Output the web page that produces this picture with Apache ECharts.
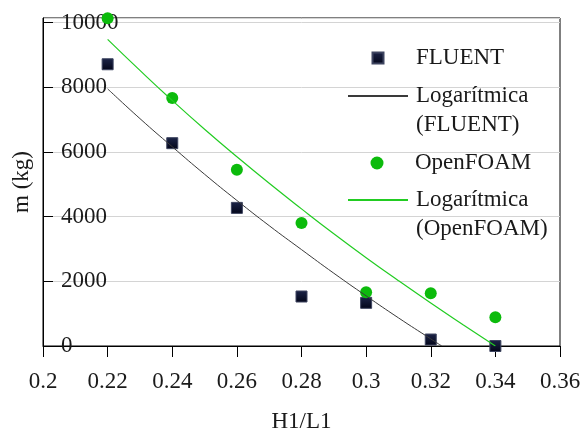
<!DOCTYPE html>
<html>
<head>
<meta charset="utf-8">
<script src="https://cdn.jsdelivr.net/npm/echarts@6/dist/echarts.min.js"></script>
<style>
html,body{margin:0;padding:0;background:#fff;}
#chart{width:588px;height:432px;}
</style>
</head>
<body>
<div id="chart"></div>
<script>
// ---- data ----
var xValues = [0.22, 0.24, 0.26, 0.28, 0.30, 0.32, 0.34];
var fluentValues = [8710, 6270, 4270, 1530, 1335, 200, 0];
var openfoamValues = [10130, 7670, 5450, 3800, 1660, 1630, 890];

var fluentTrendX = [0.22, 0.23, 0.24, 0.25, 0.26, 0.27, 0.28, 0.29, 0.30, 0.31, 0.32, 0.3234];
var fluentTrendY = [7950, 7030, 6160, 5310, 4500, 3720, 2980, 2250, 1550, 870, 220, 0];

var openTrendX = [0.22, 0.23, 0.24, 0.25, 0.26, 0.27, 0.28, 0.29, 0.30, 0.31, 0.32, 0.33, 0.34];
var openTrendY = [9480, 8520, 7590, 6700, 5850, 5030, 4240, 3470, 2730, 2020, 1330, 660, 0];

var seriesNames = ['FLUENT', 'Logarítmica\n(FLUENT)', 'OpenFOAM', 'Logarítmica\n(OpenFOAM)'];
var xAxisTitle = 'H1/L1';
var yAxisTitle = 'm (kg)';

function pairs(xs, ys) { return xs.map(function (x, i) { return [x, ys[i]]; }); }

var FONT = '"Liberation Serif", "DejaVu Serif", serif';
var TXT = '#1a1a1a';
var FS = 23;

function legendFor(name, left, top, iw, ih, padLeft, twoLine) {
  var l = {
    data: [name],
    left: left, top: top, orient: 'vertical',
    padding: 0, itemWidth: iw, itemHeight: ih,
    selectedMode: false,
    textStyle: {
      fontFamily: FONT, fontSize: FS, color: TXT, lineHeight: 29,
      padding: [0, 0, 0, padLeft]
    }
  };
  if (twoLine) {
    // blank first line keeps the first text line level with the icon
    l.formatter = function (n) { return '\n' + n; };
    l.itemStyle = { color: 'rgba(0,0,0,0)', borderWidth: 0, opacity: 0 };
  }
  return l;
}

var chart = echarts.init(document.getElementById('chart'), null, {renderer: 'canvas'});
chart.setOption({
  backgroundColor: '#ffffff',
  animation: false,
  grid: { left: 43, right: 28, top: 18, bottom: 86, show: true, borderColor: '#000', borderWidth: 1,
          backgroundColor: 'transparent', containLabel: false, outerBoundsMode: 'none' },
  legend: [
    legendFor(seriesNames[0], 371.5, 43.5, 11, 11, 27.5, false),
    legendFor(seriesNames[1], 347, 52.5, 60, 11, 3, true),
    legendFor(seriesNames[2], 370.5, 148.5, 13, 13, 26.5, false),
    legendFor(seriesNames[3], 347, 156.5, 60, 11, 3, true)
  ],
  xAxis: {
    type: 'value', min: 0.2, max: 0.36, interval: 0.02,
    name: xAxisTitle, nameLocation: 'middle', nameGap: 64,
    nameTextStyle: { fontFamily: FONT, fontSize: FS, color: TXT },
    axisLine: { show: true, onZero: false, lineStyle: { color: '#000', width: 1 } },
    axisTick: { show: true, inside: false, length: 11, lineStyle: { color: '#000', width: 1 } },
    axisLabel: { fontFamily: FONT, fontSize: FS, color: TXT, margin: 24 },
    splitLine: { show: false }
  },
  yAxis: {
    type: 'value', min: 0, max: 10140, interval: 2000,
    name: yAxisTitle, nameLocation: 'middle', nameGap: 10,
    nameTextStyle: { fontFamily: FONT, fontSize: FS, color: TXT },
    axisLine: { show: true, onZero: false, lineStyle: { color: '#000', width: 1 } },
    axisTick: { show: true, inside: true, length: 10, lineStyle: { color: '#000', width: 1 } },
    axisLabel: {
      inside: true, margin: 18, fontFamily: FONT, fontSize: FS, color: TXT,
      showMaxLabel: false,
      formatter: function (v) { return v % 2000 === 0 ? String(v) : ''; }
    },
    splitLine: { show: true, lineStyle: { color: '#d4d4d4', width: 1 } }
  },
  series: [
    {
      name: seriesNames[0], type: 'scatter', symbol: 'rect', symbolSize: 11, clip: false, z: 3,
      itemStyle: {
        opacity: 1,
        color: new echarts.graphic.LinearGradient(0, 0, 0, 1, [
          { offset: 0, color: '#1c2448' }, { offset: 1, color: '#020518' }
        ]),
        borderColor: '#3e4560', borderWidth: 1
      },
      data: pairs(xValues, fluentValues)
    },
    {
      name: seriesNames[1], type: 'line', symbol: 'none', smooth: true, z: 4, clip: true,
      lineStyle: { color: '#3a3a3a', width: 1 }, itemStyle: { color: '#000' },
      data: pairs(fluentTrendX, fluentTrendY)
    },
    {
      name: seriesNames[2], type: 'scatter', symbol: 'circle', symbolSize: 12, clip: false, z: 3,
      itemStyle: { color: '#0cbb0c', opacity: 1 },
      data: pairs(xValues, openfoamValues)
    },
    {
      name: seriesNames[3], type: 'line', symbol: 'none', smooth: true, z: 4, clip: true,
      lineStyle: { color: '#22cc22', width: 1.2 }, itemStyle: { color: '#22cc22' },
      data: pairs(openTrendX, openTrendY)
    }
  ]
});
</script>
</body>
</html>
